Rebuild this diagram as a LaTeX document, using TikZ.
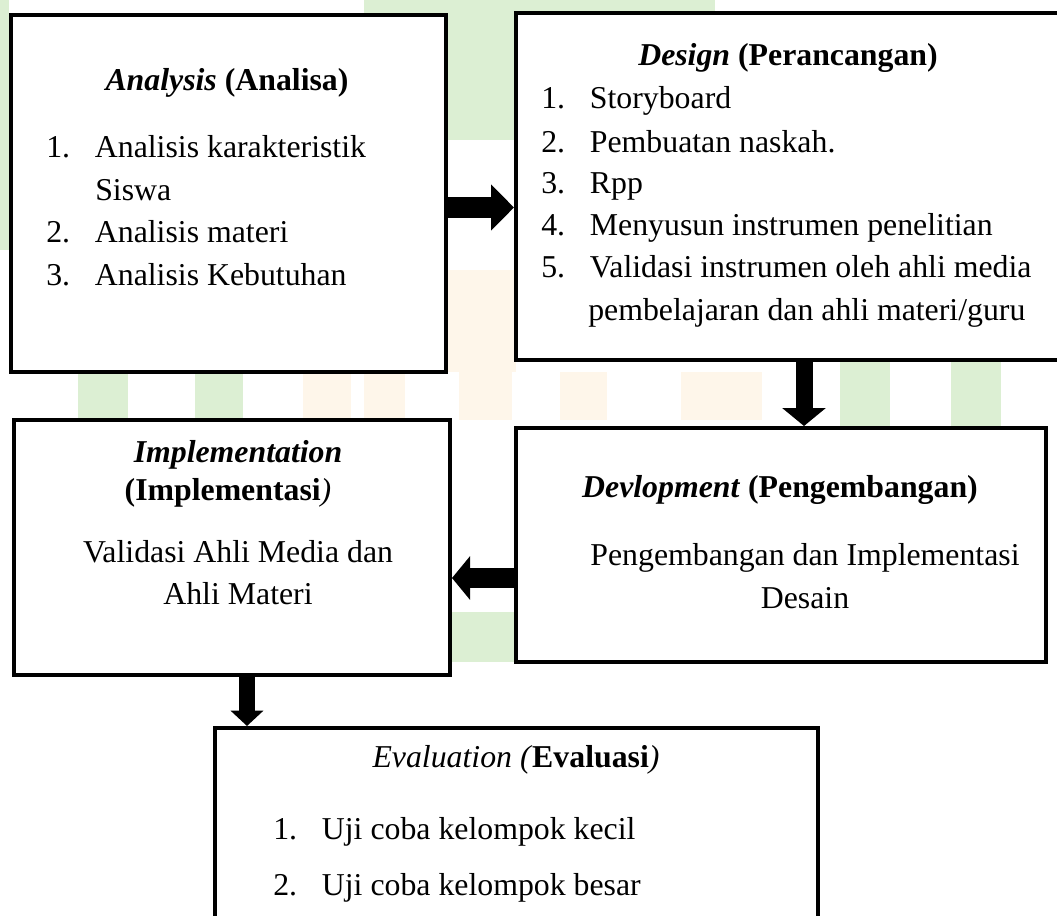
\documentclass[tikz,border=0pt]{standalone}
\usepackage{fontspec}
\setmainfont{Liberation Serif}
\usetikzlibrary{arrows.meta}
\definecolor{wmgreen}{RGB}{220,239,211}
\definecolor{wmorange}{RGB}{254,246,234}
\newcommand\itm[2]{\makebox[36.5pt][l]{#1}#2}
\begin{document}
\begin{tikzpicture}[x=0.75pt,y=-0.75pt,
  box/.style={draw=black, line width=3pt, fill=white, inner sep=0pt},
  txt/.style={inner sep=0pt, font=\fontsize{23.85pt}{32pt}\selectfont},
  blkA/.style={line width=15.75pt, -{Triangle[length=17.25pt,width=33.75pt]}},
  blkB/.style={line width=12.75pt, -{Triangle[length=13.5pt,width=32pt]}},
  blkC/.style={line width=15pt, -{Triangle[length=13.5pt,width=32pt]}},
  blkD/.style={line width=11.5pt, -{Triangle[length=11.5pt,width=24pt]}}
]
\useasboundingbox (0,0) rectangle (1057,915);
% faint watermark
\fill[wmgreen] (78,362) rectangle (128,426);
\fill[wmgreen] (195,362) rectangle (243,426);
\fill[wmgreen] (840,362) rectangle (890,428);
\fill[wmgreen] (951,362) rectangle (1001,428);
\fill[wmorange] (303,372) rectangle (351,420);
\fill[wmorange] (364,372) rectangle (405,420);
\fill[wmorange] (459,372) rectangle (512,420);
\fill[wmorange] (560,372) rectangle (607,420);
\fill[wmorange] (681,372) rectangle (762,420);
\fill[wmgreen] (446,0) rectangle (516,140);
\fill[wmorange] (446,270) rectangle (516,372);
\fill[wmgreen] (364,0) rectangle (715,13);
\fill[wmgreen] (450,612) rectangle (516,662);
\fill[wmgreen] (0,0) rectangle (9,250);

% boxes
\node[box, minimum width=435*0.75pt, minimum height=357*0.75pt] (an) at (228.5,193.5) {};
\node[box, minimum width=546*0.75pt, minimum height=347*0.75pt] (de) at (789,186.5) {};
\node[box, minimum width=436*0.75pt, minimum height=255*0.75pt] (im) at (232,547.5) {};
\node[box, minimum width=530*0.75pt, minimum height=234*0.75pt] (dv) at (781,545) {};
\node[box, minimum width=603*0.75pt, minimum height=207*0.75pt] (ev) at (516.5,831.5) {};

% Analysis
\node[txt, anchor=base] (anT) at (227,90) {\textbf{\textit{Analysis}} \textbf{(Analisa)}};
\node[txt, anchor=base west] (an1) at (46,157) {\itm{1.}{Analisis karakteristik}};
\node[txt, anchor=base west] (an1b) at (95,200) {Siswa};
\node[txt, anchor=base west] (an2) at (46,242) {\itm{2.}{Analisis materi}};
\node[txt, anchor=base west] (an3) at (46,285) {\itm{3.}{Analisis Kebutuhan}};

% Design
\node[txt, anchor=base] (deT) at (788,65) {\textbf{\textit{Design}} \textbf{(Perancangan)}};
\node[txt, anchor=base west] (de1) at (541,108) {\itm{1.}{Storyboard}};
\node[txt, anchor=base west] (de2) at (541,152) {\itm{2.}{Pembuatan naskah.}};
\node[txt, anchor=base west] (de3) at (541,193) {\itm{3.}{Rpp}};
\node[txt, anchor=base west] (de4) at (541,235) {\itm{4.}{Menyusun instrumen penelitian}};
\node[txt, anchor=base west] (de5) at (541,277) {\itm{5.}{Validasi instrumen oleh ahli media}};
\node[txt, anchor=base west] (de5b) at (588,320) {pembelajaran dan ahli materi/guru};

% Implementation
\node[txt, anchor=base] (imT1) at (238,462) {\textbf{\textit{Implementation}}};
\node[txt, anchor=base] (imT2) at (228,500) {\textbf{(Implementasi}\textit{)}};
\node[txt, anchor=base] (imB1) at (238,562) {Validasi Ahli Media dan};
\node[txt, anchor=base] (imB2) at (238,604) {Ahli Materi};

% Devlopment
\node[txt, anchor=base] (dvT) at (780,497) {\textbf{\textit{Devlopment}} \textbf{(Pengembangan)}};
\node[txt, anchor=base] (dvB1) at (805,565) {Pengembangan dan Implementasi};
\node[txt, anchor=base] (dvB2) at (805,608) {Desain};

% Evaluation
\node[txt, anchor=base] (evT) at (516,767) {\textit{Evaluation (}\textbf{Evaluasi}\textit{)}};
\node[txt, anchor=base west] (ev1) at (273,839) {\itm{1.}{Uji coba kelompok kecil}};
\node[txt, anchor=base west] (ev2) at (273,895) {\itm{2.}{Uji coba kelompok besar}};

% arrows
\coordinate (yAD) at (0,207.5);
\coordinate (xDD) at (804,0);
\coordinate (yDI) at (0,578);
\coordinate (xIE) at (247,0);
\draw[blkA] (an.east |- yAD) -- (de.west |- yAD);
\draw[blkB] (de.south -| xDD) -- (dv.north -| xDD);
\draw[blkC] (dv.west |- yDI) -- (im.east |- yDI);
\draw[blkD] (im.south -| xIE) -- (ev.north -| xIE);
\end{tikzpicture}
\end{document}
